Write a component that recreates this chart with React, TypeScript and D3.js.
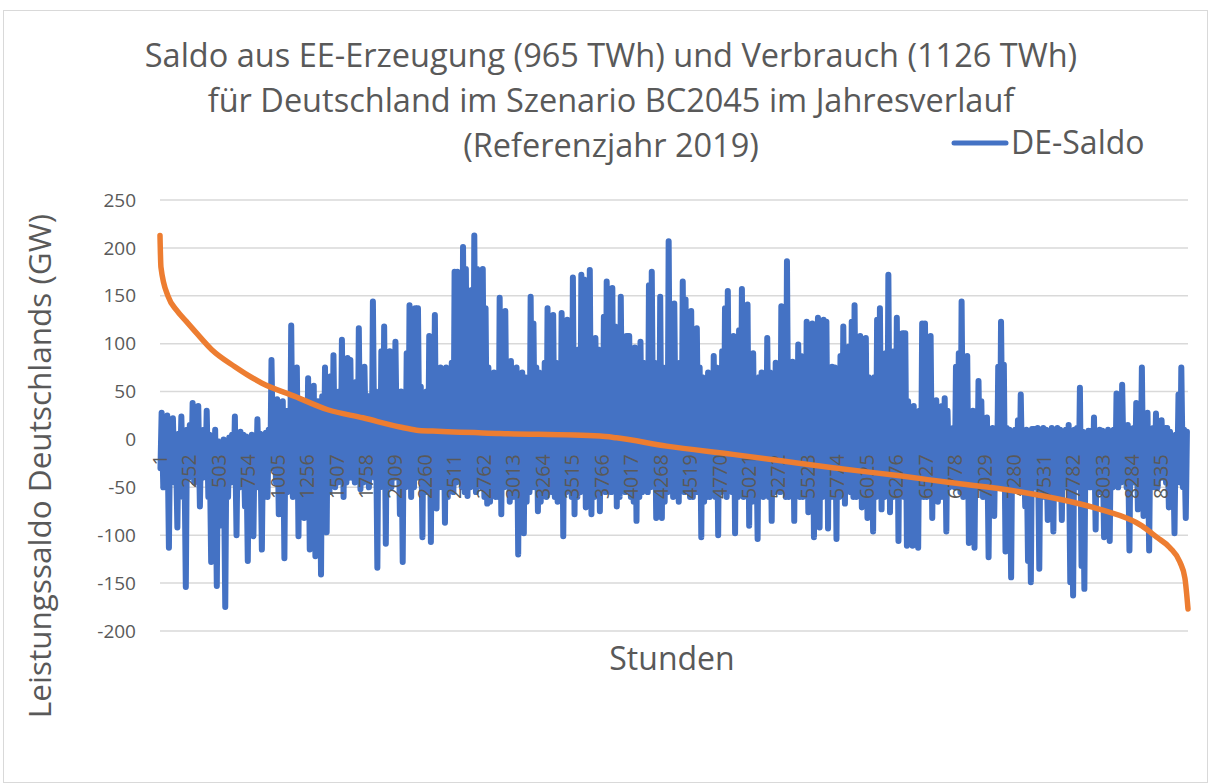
import React from "react";
import * as d3 from "d3";

const width = 1209;
const height = 784;
const margin = { top: 200, right: 21, bottom: 153, left: 160 };

const titleLines = [
  "Saldo aus EE-Erzeugung (965 TWh) und Verbrauch (1126 TWh)",
  "für Deutschland im Szenario BC2045 im Jahresverlauf",
  "(Referenzjahr 2019)",
];
const yTicks = [-200, -150, -100, -50, 0, 50, 100, 150, 200, 250];
const xTicks = d3.range(1, 8761, 251);

// DE-Saldo, daily high / low (GW), day 1..365
const tagMax = [
  28, 5, 25, 8, 22, 2, 6, 24, 4, 10,
  15, 38, 6, 35, 3, 10, 30, 5, 0, 10,
  -2, -8, 0, -5, 2, 5, 24, 3, 8, 5,
  3, 0, 5, 2, 21, 6, 2, 7, 10, 83,
  40, 42, 35, 40, 30, 30, 119, 45, 75, 40,
  38, 40, 64, 35, 56, 40, 40, 45, 75, 50,
  66, 88, 45, 50, 104, 55, 85, 83, 50, 60,
  116, 50, 76, 45, 45, 144, 50, 40, 92, 118,
  50, 92, 55, 102, 45, 50, 40, 90, 140, 55,
  137, 137, 55, 45, 50, 108, 50, 130, 55, 75,
  70, 75, 62, 80, 175, 175, 90, 201, 178, 80,
  156, 213, 178, 85, 178, 137, 75, 51, 70, 65,
  148, 75, 134, 80, 82, 74, 75, 50, 70, 65,
  40, 149, 121, 75, 70, 58, 80, 137, 75, 130,
  80, 36, 132, 70, 125, 80, 169, 75, 94, 172,
  167, 75, 177, 70, 106, 94, 75, 128, 165, 80,
  158, 118, 70, 149, 80, 108, 108, 75, 96, 70,
  102, 80, 75, 161, 175, 80, 70, 149, 75, 60,
  207, 80, 142, 75, 80, 165, 146, 80, 134, 75,
  116, 75, 65, 50, 70, 40, 87, 75, 65, 92,
  137, 155, 80, 108, 70, 114, 157, 75, 141, 70,
  90, 45, 65, 70, 55, 106, 70, 65, 80, 75,
  139, 111, 186, 75, 81, 70, 99, 87, 75, 123,
  75, 121, 70, 127, 65, 125, 123, 70, 76, 75,
  70, 87, 118, 75, 97, 123, 140, 75, 108, 70,
  106, 65, 15, 65, 125, 137, 75, 90, 172, 70,
  92, 127, 60, 111, 111, 40, 20, 35, 27, 30,
  121, 121, 45, 108, 40, 41, 14, 35, 43, 30,
  10, 12, 76, 90, 144, 15, 87, 10, 30, 12,
  61, 40, 10, 23, 8, 12, 10, 76, 123, 78,
  12, 10, 8, 10, 20, 47, 4, 10, 5, 11,
  11, 12, 8, 12, 10, 6, 12, 8, 12, 10,
  8, 10, 15, 5, 10, 12, 54, 8, 6, 9,
  9, 23, 8, 10, 9, 6, 10, 8, 10, 48,
  12, 57, 10, 15, 8, 12, 38, 10, 75, 12,
  28, 10, 12, 27, 10, 20, 12, 12, 8, 0,
  5, 47, 75, 10, 8,
];
const tagMin = [
  -30, -50, -35, -113, -40, -45, -92, -30, -60, -154,
  -40, -30, -45, -35, -70, -40, -35, -60, -128, -45,
  -153, -50, -90, -175, -60, -45, -40, -100, -50, -40,
  -70, -127, -45, -101, -40, -50, -115, -40, -60, -30,
  -30, -45, -78, -50, -124, -55, -40, -60, -45, -101,
  -50, -82, -45, -115, -50, -122, -55, -141, -45, -97,
  -55, -40, -50, -45, -35, -60, -45, -40, -40, -45,
  -40, -52, -45, -20, -50, -35, -40, -134, -50, -45,
  -109, -45, -50, -40, -30, -78, -128, -50, -40, -60,
  -50, -40, -40, -102, -55, -45, -107, -40, -72, -50,
  -50, -87, -60, -40, -55, -45, -38, -50, -55, -59,
  -50, -40, -55, -40, -50, -60, -67, -65, -50, -60,
  -60, -78, -50, -40, -65, -60, -60, -120, -60, -98,
  -65, -55, -50, -50, -75, -65, -40, -60, -50, -55,
  -60, -65, -50, -101, -55, -50, -60, -78, -60, -55,
  -50, -71, -55, -78, -60, -55, -75, -50, -55, -50,
  -55, -50, -70, -60, -40, -55, -50, -60, -65, -85,
  -60, -55, -50, -55, -50, -40, -82, -60, -82, -65,
  -55, -50, -60, -40, -65, -50, -55, -50, -60, -60,
  -55, -40, -102, -65, -60, -60, -55, -60, -100, -55,
  -50, -60, -50, -55, -98, -60, -50, -60, -55, -90,
  -65, -60, -104, -55, -60, -50, -60, -85, -55, -50,
  -55, -50, -60, -60, -55, -85, -50, -60, -60, -55,
  -76, -55, -102, -50, -92, -60, -55, -93, -60, -60,
  -104, -60, -55, -67, -50, -55, -60, -60, -55, -71,
  -55, -82, -65, -96, -60, -55, -73, -60, -50, -76,
  -60, -55, -106, -50, -60, -111, -65, -111, -60, -113,
  -55, -60, -60, -55, -82, -60, -65, -60, -60, -96,
  -50, -45, -50, -40, -55, -60, -45, -108, -50, -113,
  -50, -45, -60, -50, -123, -45, -80, -45, -50, -40,
  -117, -60, -144, -40, -50, -45, -55, -70, -127, -149,
  -50, -45, -135, -50, -60, -84, -50, -96, -45, -60,
  -84, -50, -45, -149, -163, -40, -50, -132, -156, -30,
  -50, -45, -94, -40, -55, -102, -30, -106, -50, -45,
  -50, -45, -40, -50, -116, -30, -45, -73, -40, -80,
  -45, -116, -20, -50, -50, -40, -40, -45, -71, -35,
  -98, -40, -45, -50, -82,
];

// sorted curve (Jahresdauerlinie), [hour, GW]
const durationHours = [
  1, 9, 71, 142, 227, 313, 440, 639, 866, 1150, 1431, 1730, 2045, 2187, 2326,
  2897, 3749, 3891, 4318, 4882, 5308, 5734, 6305, 6731, 7299, 7725, 8010,
  8364, 8493, 8606, 8691, 8734, 8760,
];
const durationValues = [
  213, 180, 149, 135, 123, 111, 94, 76, 59, 45, 31, 22.6, 13, 9.7, 8.7, 6.25,
  3.5, 1.7, -7, -15.6, -22.6, -29.5, -38, -45, -54, -64, -73, -90, -102, -113,
  -128, -145, -177,
];

const blue = "#4472C4";
const orange = "#ED7D31";
const grid = "#D9D9D9";
const textColor = "#595959";
const font = "'Open Sans', sans-serif";

export default function App() {
  const x = d3
    .scaleLinear()
    .domain([1, 8760])
    .range([margin.left, width - margin.right]);
  const y = d3
    .scaleLinear()
    .domain([-200, 250])
    .range([height - margin.bottom, margin.top]);

  // low in the early hours, high around midday
  const saldo = tagMin.flatMap((lo, i) => [
    { h: 1 + i * 24 + 4, v: lo },
    { h: 1 + i * 24 + 14, v: tagMax[i] },
  ]);

  const saldoLine = d3
    .line<{ h: number; v: number }>()
    .x((d) => x(d.h))
    .y((d) => y(d.v));

  const durationLine = d3
    .line<number>()
    .x((d, i) => x(durationHours[i]))
    .y((d) => y(d))
    .curve(d3.curveMonotoneX);

  return (
    <svg
      width={width}
      height={height}
      style={{ position: "absolute", left: 0, top: 0, background: "#fff" }}
    >
      <rect x={3.5} y={10.5} width={1204} height={772} fill="#fff" stroke={grid} />

      {titleLines.map((t, i) => (
        <text
          key={i}
          x={611}
          y={67 + i * 45}
          textAnchor="middle"
          fontFamily={font}
          fontSize={32.5}
          fill={textColor}
        >
          {t}
        </text>
      ))}

      <line x1={954} x2={1006} y1={143} y2={143} stroke={blue} strokeWidth={5} strokeLinecap="round" />
      <text x={1011} y={154} fontFamily={font} fontSize={32} fill={textColor}>
        DE-Saldo
      </text>

      {yTicks.map((t) => (
        <g key={t}>
          <line
            x1={margin.left}
            x2={width - margin.right}
            y1={y(t)}
            y2={y(t)}
            stroke={grid}
            strokeWidth={1.5}
          />
          <text
            x={136}
            y={y(t)}
            dy="0.35em"
            textAnchor="end"
            fontFamily={font}
            fontSize={19}
            fill={textColor}
          >
            {t}
          </text>
        </g>
      ))}

      <path
        d={saldoLine(saldo) || ""}
        fill="none"
        stroke={blue}
        strokeWidth={6}
        strokeLinejoin="round"
        strokeLinecap="round"
      />

      {xTicks.map((t) => (
        <text
          key={t}
          transform={`translate(${x(t)},${y(0) + 15}) rotate(-90)`}
          dy="0.35em"
          textAnchor="end"
          fontFamily={font}
          fontSize={19.5}
          fill={textColor}
        >
          {t}
        </text>
      ))}

      <path
        d={durationLine(durationValues) || ""}
        fill="none"
        stroke={orange}
        strokeWidth={5.5}
        strokeLinejoin="round"
        strokeLinecap="round"
      />

      <text
        x={672}
        y={670}
        textAnchor="middle"
        fontFamily={font}
        fontSize={32}
        fill={textColor}
      >
        Stunden
      </text>
      <text
        transform={`translate(51,466) rotate(-90)`}
        textAnchor="middle"
        fontFamily={font}
        fontSize={31.5}
        fill={textColor}
      >
        Leistungssaldo Deutschlands (GW)
      </text>
    </svg>
  );
}
